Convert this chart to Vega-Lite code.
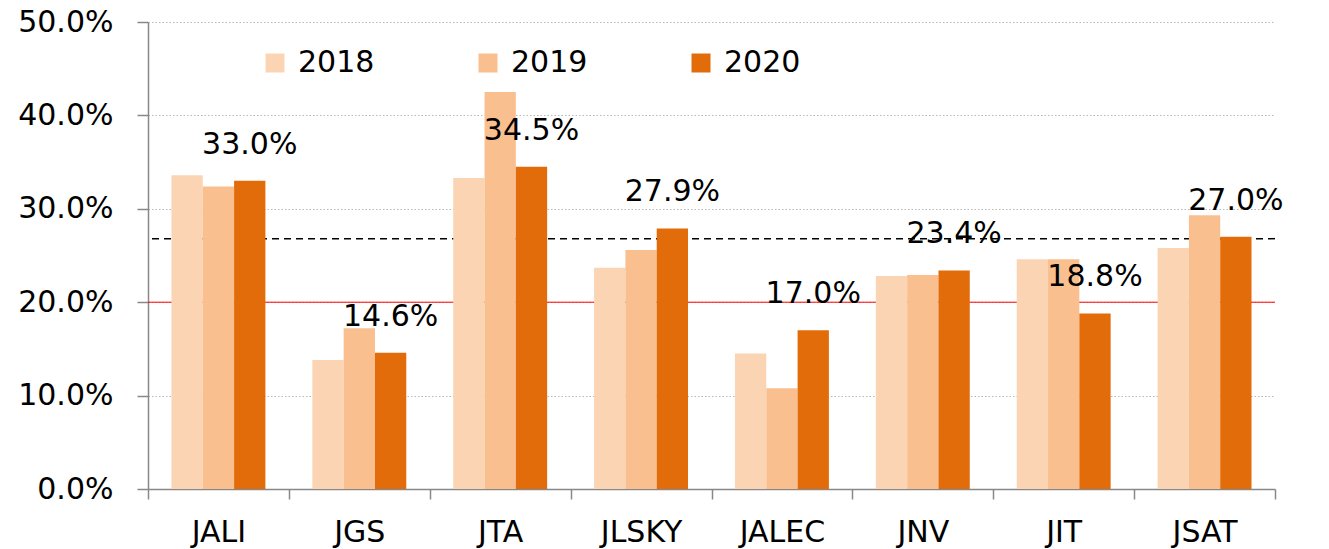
{
  "$schema": "https://vega.github.io/schema/vega-lite/v6.json",
  "width": 1127,
  "height": 467,
  "autosize": "none",
  "padding": {"left": 148, "top": 22, "right": 54, "bottom": 60},
  "background": "white",
  "config": {
    "font": "DejaVu Sans",
    "view": {"stroke": null}
  },
  "datasets": {
    "bars": [
      {"company": "JALI", "year": "2018", "value": 0.336},
      {"company": "JALI", "year": "2019", "value": 0.324},
      {"company": "JALI", "year": "2020", "value": 0.330},
      {"company": "JGS", "year": "2018", "value": 0.138},
      {"company": "JGS", "year": "2019", "value": 0.172},
      {"company": "JGS", "year": "2020", "value": 0.146},
      {"company": "JTA", "year": "2018", "value": 0.333},
      {"company": "JTA", "year": "2019", "value": 0.425},
      {"company": "JTA", "year": "2020", "value": 0.345},
      {"company": "JLSKY", "year": "2018", "value": 0.237},
      {"company": "JLSKY", "year": "2019", "value": 0.256},
      {"company": "JLSKY", "year": "2020", "value": 0.279},
      {"company": "JALEC", "year": "2018", "value": 0.145},
      {"company": "JALEC", "year": "2019", "value": 0.108},
      {"company": "JALEC", "year": "2020", "value": 0.170},
      {"company": "JNV", "year": "2018", "value": 0.228},
      {"company": "JNV", "year": "2019", "value": 0.229},
      {"company": "JNV", "year": "2020", "value": 0.234},
      {"company": "JIT", "year": "2018", "value": 0.246},
      {"company": "JIT", "year": "2019", "value": 0.246},
      {"company": "JIT", "year": "2020", "value": 0.188},
      {"company": "JSAT", "year": "2018", "value": 0.258},
      {"company": "JSAT", "year": "2019", "value": 0.293},
      {"company": "JSAT", "year": "2020", "value": 0.270}
    ],
    "refs": [
      {"name": "avg", "value": 0.268},
      {"name": "target", "value": 0.20}
    ]
  },
  "layer": [
    {
      "data": {"name": "refs"},
      "transform": [{"filter": "datum.name === 'target'"}],
      "mark": {"type": "rule", "color": "#FF0000", "strokeWidth": 1},
      "encoding": {"y": {"field": "value", "type": "quantitative"}}
    },
    {
      "data": {"name": "refs"},
      "transform": [{"filter": "datum.name === 'avg'"}],
      "mark": {"type": "rule", "color": "#000000", "strokeWidth": 1.5, "strokeDash": [7, 5]},
      "encoding": {"y": {"field": "value", "type": "quantitative"}}
    },
    {
      "data": {"name": "bars"},
      "mark": {"type": "bar"},
      "encoding": {
        "x": {
          "field": "company",
          "type": "nominal",
          "sort": ["JALI", "JGS", "JTA", "JLSKY", "JALEC", "JNV", "JIT", "JSAT"],
          "scale": {"paddingInner": 0, "paddingOuter": 0},
          "axis": {
            "title": null,
            "labelAngle": 0,
            "tickBand": "extent",
            "labelFontSize": 30,
            "labelColor": "#000000",
            "labelPadding": 18,
            "tickSize": 10,
            "tickColor": "#888888",
            "tickWidth": 1.5,
            "domainColor": "#888888",
            "domainWidth": 1.5,
            "grid": false
          }
        },
        "xOffset": {
          "field": "year",
          "type": "nominal",
          "scale": {"paddingInner": 0, "paddingOuter": 0.75}
        },
        "y": {
          "field": "value",
          "type": "quantitative",
          "scale": {"domain": [0, 0.5], "nice": false},
          "axis": {
            "title": null,
            "format": ".1%",
            "values": [0, 0.1, 0.2, 0.3, 0.4, 0.5],
            "labelFontSize": 30,
            "labelColor": "#000000",
            "labelPadding": 24,
            "tickSize": 11,
            "tickColor": "#888888",
            "tickWidth": 1.5,
            "domainColor": "#888888",
            "domainWidth": 1.5,
            "grid": true,
            "gridColor": "#B8B8B8",
            "gridDash": [1.5, 2],
            "gridWidth": 1.2
          }
        },
        "color": {
          "field": "year",
          "type": "nominal",
          "scale": {"domain": ["2018", "2019", "2020"], "range": ["#FBD4B4", "#FABF8F", "#E36C0A"]},
          "legend": {
            "title": null,
            "orient": "none",
            "legendX": 112,
            "legendY": 26,
            "direction": "horizontal",
            "columns": 3,
            "columnPadding": 98,
            "padding": 0,
            "symbolType": "square",
            "symbolSize": 361,
            "symbolStrokeWidth": 0,
            "labelFontSize": 30,
            "labelColor": "#000000",
            "labelOffset": 8
          }
        }
      }
    },
    {
      "data": {"name": "bars"},
      "transform": [{"filter": "datum.year === '2020'"}],
      "mark": {"type": "text", "fontSize": 30, "color": "#000000", "baseline": "middle", "align": "center", "dy": -36},
      "encoding": {
        "x": {"field": "company", "type": "nominal", "sort": ["JALI", "JGS", "JTA", "JLSKY", "JALEC", "JNV", "JIT", "JSAT"]},
        "xOffset": {"field": "year", "type": "nominal"},
        "y": {"field": "value", "type": "quantitative"},
        "text": {"field": "value", "type": "quantitative", "format": ".1%"}
      }
    }
  ]
}
